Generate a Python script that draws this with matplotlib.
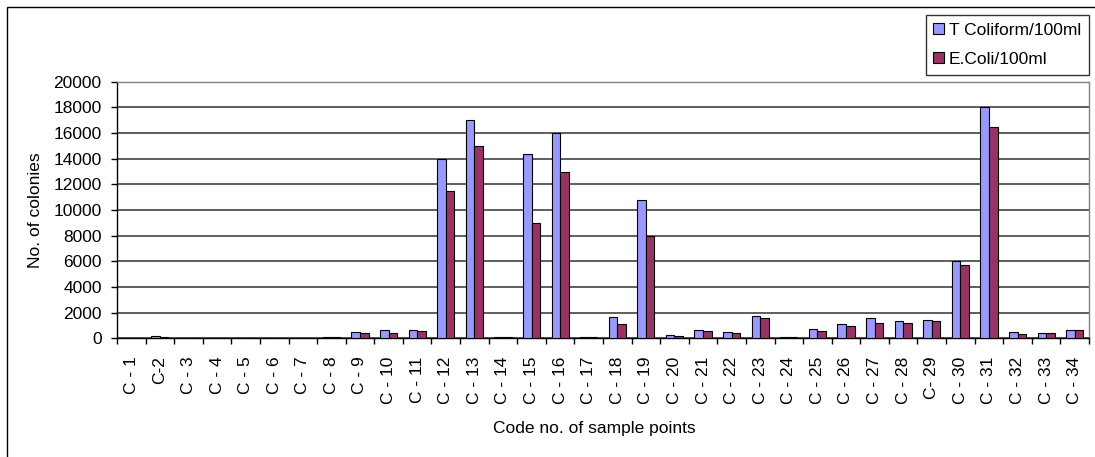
import numpy as np
import matplotlib
matplotlib.use("Agg")
import matplotlib.pyplot as plt
from matplotlib.patches import Patch, Rectangle

plt.rcParams['font.family'] = ['Liberation Sans', 'DejaVu Sans']

labels = ["C - 1", "C-2", "C - 3", "C - 4", "C - 5", "C - 6", "C - 7", "C - 8",
          "C - 9", "C - 10", "C - 11", "C - 12", "C - 13", "C - 14", "C - 15",
          "C - 16", "C - 17", "C - 18", "C - 19", "C - 20", "C - 21", "C - 22",
          "C - 23", "C - 24", "C - 25", "C - 26", "C - 27", "C - 28", "C- 29",
          "C - 30", "C - 31", "C - 32", "C - 33", "C - 34"]
t_coliform = [0, 200, 0, 0, 0, 0, 0, 80, 500, 650, 650, 14000, 17000, 100, 14400,
              16000, 80, 1650, 10800, 280, 650, 500, 1750, 80, 750, 1150, 1550,
              1350, 1450, 6000, 18000, 480, 400, 650]
e_coli = [0, 100, 0, 0, 0, 0, 0, 80, 400, 400, 550, 11500, 15000, 100, 9000,
          13000, 80, 1150, 8000, 180, 550, 400, 1550, 80, 570, 960, 1170,
          1170, 1350, 5700, 16500, 350, 400, 650]
yticks = np.arange(0, 20001, 2000)

blue = '#9999FF'
red = '#993366'

fig = plt.figure(figsize=(10.95, 4.57), dpi=100)
ax = fig.add_axes([117 / 1095, 1 - 338.3 / 457, 972 / 1095, 256.5 / 457])

x = np.arange(len(labels))
w = 0.3
ax.bar(x - w / 2, t_coliform, w, color=blue, edgecolor='black', linewidth=0.8, zorder=3)
ax.bar(x + w / 2, e_coli, w, color=red, edgecolor='black', linewidth=0.8, zorder=3)

ax.set_xlim(-0.5, len(labels) - 0.5)
ax.set_ylim(0, 20000)
ax.set_yticks(yticks)
ax.set_yticklabels([str(v) for v in yticks], fontsize=12.5)
ax.yaxis.grid(True, color='#333333', linewidth=1.1, zorder=0)
ax.set_axisbelow(True)

ax.set_xticks(x)
ax.set_xticklabels(labels, rotation=90, fontsize=12.5, ha='center', va='top')
ax.set_xticks(np.arange(-0.5, len(labels)), minor=True)
ax.tick_params(axis='x', which='major', length=0, pad=13)
ax.tick_params(axis='x', which='minor', length=4, width=1, direction='out')
ax.tick_params(axis='y', length=4, width=1, direction='out', pad=7)

for s in ['left', 'bottom']:
    ax.spines[s].set_color('black')
    ax.spines[s].set_linewidth(1)
for s in ['top', 'right']:
    ax.spines[s].set_color('#808080')
    ax.spines[s].set_linewidth(1)

ax.set_ylabel("No. of colonies", fontsize=12.5, va='center')
ax.yaxis.set_label_coords((36 - 117) / 972, 0.5)
ax.set_xlabel("Code no. of sample points", fontsize=12.5)
ax.xaxis.label.set_va('center')
ax.xaxis.set_label_coords((594 - 117) / 972, (338.3 - 428) / 256.5)

handles = [Patch(facecolor=blue, edgecolor='black', linewidth=0.8),
           Patch(facecolor=red, edgecolor='black', linewidth=0.8)]
leg = fig.legend(handles, ["T Coliform/100ml", "E.Coli/100ml"],
                 loc='upper right', bbox_to_anchor=(1089 / 1095, 1 - 15 / 457),
                 fontsize=12.5, frameon=True, fancybox=False, shadow=False,
                 handlelength=0.6, handleheight=0.6, handletextpad=0.3,
                 labelspacing=0.8, borderpad=0.45, borderaxespad=0)
leg.get_frame().set_edgecolor('black')
leg.get_frame().set_linewidth(1)

fig.patches.append(Rectangle((7 / 1095, -0.2), 1.2, 1.2 - 7 / 457,
                             transform=fig.transFigure, fill=False,
                             edgecolor='black', linewidth=1))

fig.savefig("out.png", dpi=100)
